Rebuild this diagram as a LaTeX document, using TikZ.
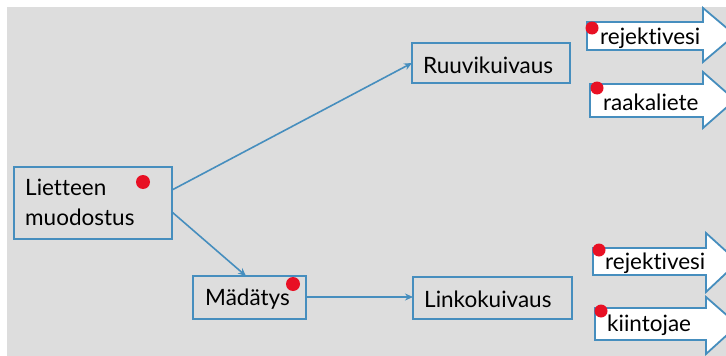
\documentclass[tikz,border=0pt]{standalone}
\usepackage{fontspec}
\setmainfont[Ligatures={NoCommon,NoContextual}]{Lato}
\usetikzlibrary{arrows.meta}
\definecolor{bblue}{RGB}{70,142,190}
\definecolor{bg}{RGB}{221,221,221}
\definecolor{dotred}{RGB}{232,16,36}
\tikzset{
  box/.style={draw=bblue, line width=1.8pt, fill=bg, inner sep=0pt},
  lbl/.style={anchor=west, inner sep=0pt, font=\fontsize{22.5}{27}\selectfont},
  conn/.style={draw=bblue, line width=1.6pt, -{Stealth[length=8pt,width=7pt]}},
  flow/.style={draw=bblue, line width=1.8pt, fill=white, line join=miter},
  dot/.style={fill=dotred, draw=none}
}
\begin{document}
\begin{tikzpicture}[x=1pt,y=-1pt]
\useasboundingbox (0,0) rectangle (726,356);
\clip (0,0) rectangle (726,356);
\fill[bg] (7,7) rectangle (726,356);
% boxes
\path[box] (14,167) rectangle (172,239);
\coordinate (lt) at (172,190);
\coordinate (lb) at (172,212);
\node[lbl, align=left, font=\fontsize{22.5}{30}\selectfont] (liet) at (25,202) {Lietteen\\muodostus};
\fill[dot] (143,182) circle (7);
\path[box] (193,276) rectangle (306,319);
\coordinate (mtop) at (246,276);
\coordinate (mr) at (306,297);
\node[lbl] (mad) at (205,299) {Mädätys};
\fill[dot] (293,284) circle (7);
\path[box] (412,43) rectangle (570,83);
\coordinate (rl) at (412,63);
\node[lbl] (ruu) at (423,65) {Ruuvikuivaus};
\path[box] (413,277) rectangle (572,319);
\coordinate (kl) at (413,297);
\node[lbl] (lin) at (424,299) {Linkokuivaus};
% connectors
\draw[conn] (lt) -- (rl);
\draw[conn] (lb) -- (mtop);
\draw[conn] (mr) -- (kl);
% flow arrows
\path[flow] (587,22) -- (703,22) -- (703,8) -- (735,35) -- (703,62) -- (703,50) -- (587,50) -- cycle;
\node[lbl] (a1) at (600,38) {rejektivesi};
\fill[dot] (592,28) circle (6.5);
\path[flow] (590,84) -- (703,84) -- (703,72) -- (735,100) -- (703,128) -- (703,117) -- (590,117) -- cycle;
\node[lbl] (a2) at (603,102) {raakaliete};
\fill[dot] (597,88) circle (6.5);
\path[flow] (593,248) -- (706,248) -- (706,233) -- (738,262) -- (706,292) -- (706,275) -- (593,275) -- cycle;
\node[lbl] (a3) at (605,263) {rejektivesi};
\fill[dot] (599,250) circle (6.5);
\path[flow] (595,308) -- (706,308) -- (706,297) -- (738,325) -- (706,354) -- (706,340) -- (595,340) -- cycle;
\node[lbl] (a4) at (607,325) {kiintojae};
\fill[dot] (601,311) circle (6.5);
\end{tikzpicture}
\end{document}
